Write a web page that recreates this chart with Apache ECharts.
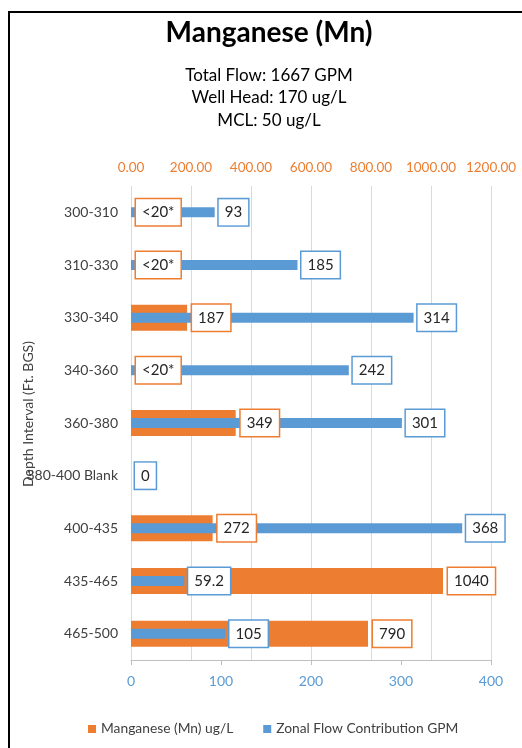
<!DOCTYPE html>
<html>
<head>
<meta charset="utf-8">
<script src="https://cdn.jsdelivr.net/npm/echarts@6/dist/echarts.min.js"></script>
<style>
  html, body { margin: 0; padding: 0; background: #fff; }
  #chart { width: 522px; height: 748px; }
</style>
</head>
<body>
<div id="chart"></div>
<script>
// Depth intervals (feet below ground surface), top to bottom
const depthIntervals = ['300-310', '310-330', '330-340', '340-360', '360-380',
  '380-400 Blank', '400-435', '435-465', '465-500'];

// Manganese concentration (ug/L); 0 = below reporting limit, null = no sample
const manganese = [0, 0, 187, 0, 349, null, 272, 1040, 790];
const nonDetectLabel = '<20*';

// Zonal flow contribution (GPM)
const zonalFlow = [93, 185, 314, 242, 301, 0, 368, 59.2, 105];

// Axis ranges
const mnAxis = { min: 0, max: 1200, interval: 200 };
const flowAxis = { min: 0, max: 400, interval: 100 };

const ORANGE = '#ED7D31';
const BLUE = '#5B9BD5';
const FONT = 'Lato, "Open Sans", sans-serif';

const chart = echarts.init(document.getElementById('chart'), null, { renderer: 'canvas' });

const boxLabel = (border, dist) => ({
  show: true,
  position: 'right',
  distance: dist,
  fontFamily: FONT,
  fontSize: 15,
  lineHeight: 16,
  color: '#262626',
  backgroundColor: '#fff',
  borderColor: border,
  borderWidth: 1.5,
  padding: [5, 6]
});

const mnLabelText = (p) => (p.value === 0 ? nonDetectLabel : String(p.value));

// three identical category axes so each bar series is centred on its own band
const categoryAxis = (extra) => Object.assign({
  type: 'category',
  inverse: true,
  data: depthIntervals
}, extra);

chart.setOption({
  animation: false,
  textStyle: { fontFamily: FONT },
  title: {
    text: 'Manganese (Mn)',
    subtext: 'Total Flow: 1667 GPM\nWell Head: 170 ug/L\nMCL: 50 ug/L',
    left: 264,
    textAlign: 'center',
    top: 14,
    itemGap: 17,
    textStyle: { fontFamily: FONT, fontSize: 28, fontWeight: 'bold', color: '#000' },
    subtextStyle: { fontFamily: FONT, fontSize: 17, lineHeight: 22.5, color: '#000' }
  },
  graphic: [{
    type: 'rect',
    silent: true,
    shape: { x: 9, y: 12, width: 700, height: 900 },
    style: { fill: 'none', stroke: '#000', lineWidth: 2 }
  }],
  legend: {
    bottom: 12,
    left: 88,
    padding: 0,
    itemWidth: 8,
    itemHeight: 8,
    itemGap: 30,
    icon: 'rect',
    textStyle: { fontFamily: FONT, fontSize: 13.8, color: '#404040' },
    data: ['Manganese (Mn) ug/L', 'Zonal Flow Contribution GPM']
  },
  grid: {
    left: 131, right: 31, top: 186, bottom: 88,
    containLabel: false,
    outerBoundsMode: 'none'
  },
  xAxis: [{
    type: 'value',
    position: 'top',
    min: mnAxis.min, max: mnAxis.max, interval: mnAxis.interval,
    axisLine: { show: false },
    axisTick: { show: false },
    axisLabel: {
      color: ORANGE, fontFamily: FONT, fontSize: 13.5, margin: 11,
      formatter: (v) => v.toFixed(2)
    },
    splitLine: { show: true, lineStyle: { color: '#D9D9D9', width: 1 } }
  }, {
    type: 'value',
    position: 'bottom',
    min: flowAxis.min, max: flowAxis.max, interval: flowAxis.interval,
    axisLine: { show: true, lineStyle: { color: '#BFBFBF', width: 1 } },
    axisTick: { show: true, length: 5, lineStyle: { color: '#BFBFBF' } },
    axisLabel: { color: BLUE, fontFamily: FONT, fontSize: 14, margin: 14 },
    splitLine: { show: false }
  }],
  yAxis: [categoryAxis({
    name: 'Depth Interval (Ft. BGS)',
    nameLocation: 'middle',
    nameRotate: 90,
    nameGap: 96,
    nameMoveOverlap: false,
    nameTextStyle: { fontFamily: FONT, fontSize: 14, color: '#404040', padding: [0, 0, 0, 18] },
    axisLine: { show: false },
    axisTick: { show: false },
    axisLabel: { fontFamily: FONT, fontSize: 14, color: '#404040', margin: 13 }
  }), categoryAxis({ show: false }), categoryAxis({ show: false })],
  series: [{
    name: 'Manganese (Mn) ug/L',
    type: 'bar',
    xAxisIndex: 0,
    yAxisIndex: 0,
    barWidth: 26,
    itemStyle: { color: ORANGE },
    data: manganese,
    z: 2
  }, {
    name: 'Zonal Flow Contribution GPM',
    type: 'bar',
    xAxisIndex: 1,
    yAxisIndex: 1,
    barWidth: 10,
    itemStyle: { color: BLUE },
    data: zonalFlow,
    label: Object.assign(boxLabel(BLUE, 4), {
      formatter: (p) => String(p.value)
    }),
    z: 3
  }, {
    // transparent copy of the manganese bars that carries their value boxes above the flow bars
    name: 'Manganese labels',
    type: 'bar',
    xAxisIndex: 0,
    yAxisIndex: 2,
    barWidth: 26,
    silent: true,
    itemStyle: { color: 'rgba(0,0,0,0)' },
    data: manganese,
    label: Object.assign(boxLabel(ORANGE, 5), { formatter: mnLabelText }),
    z: 4
  }]
});
</script>
</body>
</html>
